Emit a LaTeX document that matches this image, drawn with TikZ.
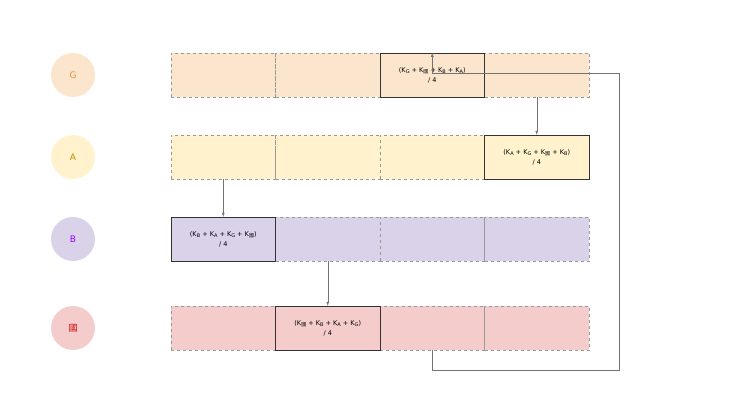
\documentclass[tikz,border=0pt]{standalone}
\usepackage{fontspec}
\setmainfont{DejaVu Sans}
\newfontfamily\cjk{Noto Sans CJK SC}
\usetikzlibrary{positioning}
\definecolor{gfill}{HTML}{FCE5CD}
\definecolor{afill}{HTML}{FFF2CC}
\definecolor{bfill}{HTML}{D9D2E9}
\definecolor{cfill}{HTML}{F4CCCC}
\definecolor{gtext}{HTML}{E69138}
\definecolor{atext}{HTML}{BF9000}
\definecolor{btext}{HTML}{9900FF}
\definecolor{ctext}{HTML}{CC0000}
\newcommand{\kk}[1]{K\raisebox{-0.4ex}{\tiny #1}}
\newcommand{\kc}{K\raisebox{-0.4ex}{\tiny\cjk 國}}
\tikzset{
  cell/.style={draw=gray!80,dashed,minimum width=104.5pt,minimum height=44pt,inner sep=0pt},
  hot/.style={draw=black!80,solid,thick,align=center,font=\fontsize{6.5}{10}\selectfont},
  lbl/.style={circle,minimum size=44pt,inner sep=0pt,font=\small},
  link/.style={->,>=latex,draw=gray!90!black}
}
\begin{document}
\begin{tikzpicture}[x=1pt,y=-1pt]
  \useasboundingbox (0,0) rectangle (740,412);
  % labels
  \node[lbl,fill=gfill,text=gtext] (lg) at (73,75) {G};
  \node[lbl,fill=afill,text=atext] (la) at (73,157) {A};
  \node[lbl,fill=bfill,text=btext] (lb) at (73,239) {B};
  \node[lbl,fill=cfill,text=ctext] (lc) at (73,328) {\cjk 國};
  % rows of cells
  \foreach \r/\y/\c in {g/75/gfill,a/157/afill,b/239/bfill,c/328/cfill}
    \foreach \i in {1,...,4}
      \node[cell,fill=\c] (\r\i) at (171+104.5*\i-52.25,\y) {};
  % highlighted cells
  \node[cell,fill=gfill,hot] at (g3) {(\kk{G} + \kc{} + \kk{B} + \kk{A})\\/ 4};
  \node[cell,fill=afill,hot] at (a4) {(\kk{A} + \kk{G} + \kc{} + \kk{B})\\/ 4};
  \node[cell,fill=bfill,hot] at (b1) {(\kk{B} + \kk{A} + \kk{G} + \kc)\\/ 4};
  \node[cell,fill=cfill,hot] at (c2) {(\kc{} + \kk{B} + \kk{A} + \kk{G})\\/ 4};
  % connectors
  \draw[link] (g4.south) -- (a4.north);
  \draw[link] (a1.south) -- (b1.north);
  \draw[link] (b2.south) -- (c2.north);
  \draw[link] (c3.south) |- (619,370) |- ([yshift=-20pt]g3.north) -- (g3.north);
\end{tikzpicture}
\end{document}
